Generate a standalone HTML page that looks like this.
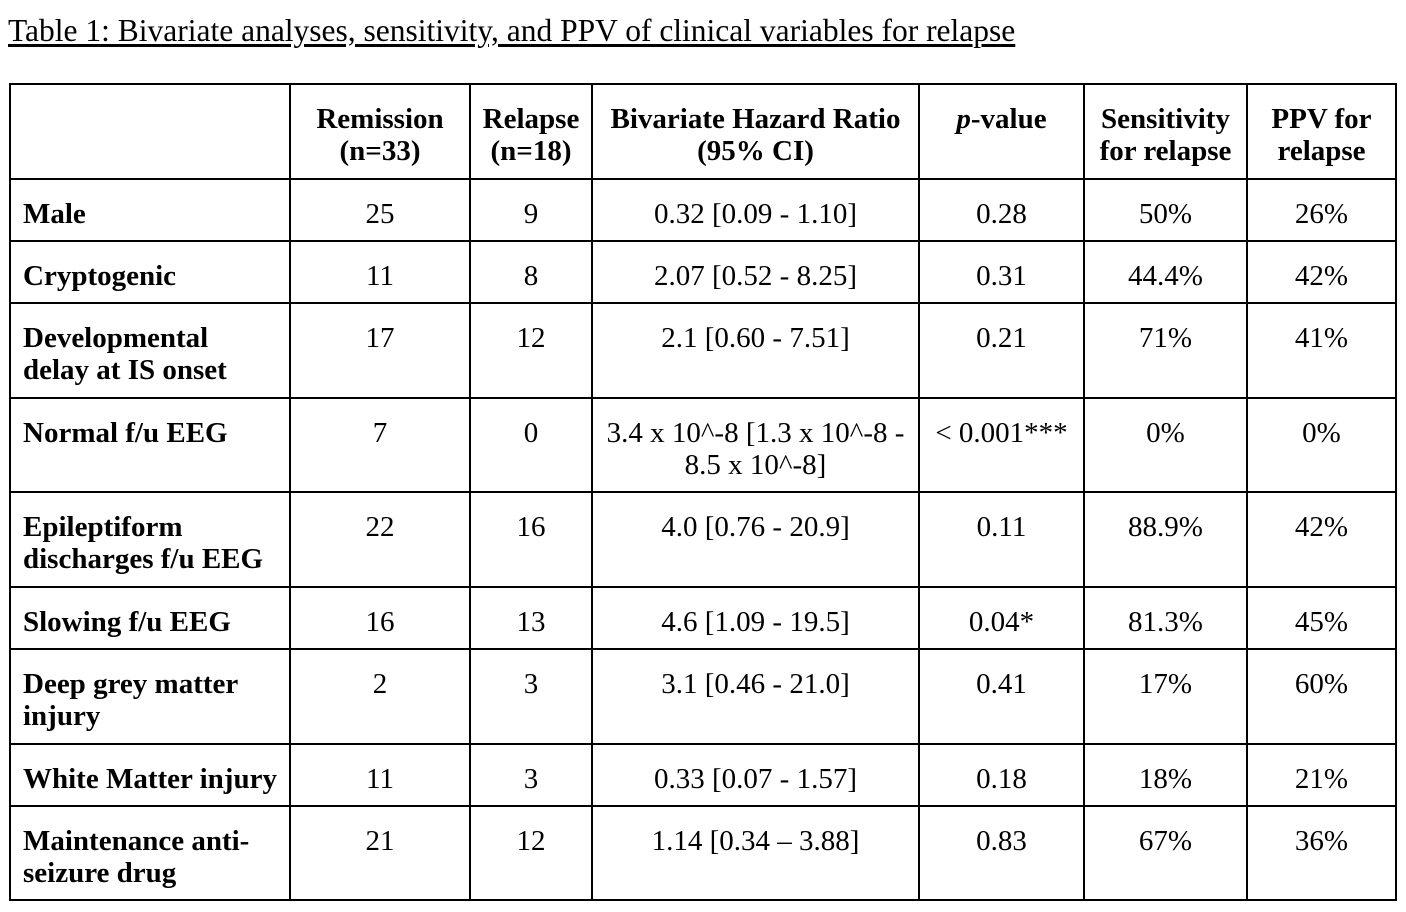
<!DOCTYPE html>
<html><head><meta charset="utf-8"><style>
body{margin:0;width:1406px;height:912px;background:#fff;font-family:"Liberation Serif",serif;color:#000;position:relative;overflow:hidden}
.title{position:absolute;left:8px;top:13px;font-size:31.5px;line-height:36px;text-decoration:underline;text-underline-offset:3px;white-space:nowrap}
table{position:absolute;left:9px;top:83px;border-collapse:collapse;table-layout:fixed;font-size:29px}
td{border:2px solid #000;vertical-align:top;text-align:center;padding:18px 2px 0 2px;line-height:32px;box-sizing:border-box;white-space:nowrap}
td.h{font-weight:bold}
td.l{text-align:left;font-weight:bold;padding-left:12px}
</style></head><body>
<div class="title">Table 1: Bivariate analyses, sensitivity, and PPV of clinical variables for relapse</div>
<table>
<colgroup><col style="width:280px"><col style="width:180px"><col style="width:122px"><col style="width:327px"><col style="width:165px"><col style="width:163px"><col style="width:149px"></colgroup>
<tr style="height:95px"><td></td><td class="h">Remission<br>(n=33)</td><td class="h">Relapse<br>(n=18)</td><td class="h">Bivariate Hazard Ratio<br>(95% CI)</td><td class="h"><i>p</i>-value</td><td class="h">Sensitivity<br>for relapse</td><td class="h">PPV for<br>relapse</td></tr>
<tr style="height:62px"><td class="l">Male</td><td>25</td><td>9</td><td>0.32 [0.09 - 1.10]</td><td>0.28</td><td>50%</td><td>26%</td></tr>
<tr style="height:62px"><td class="l">Cryptogenic</td><td>11</td><td>8</td><td>2.07 [0.52 - 8.25]</td><td>0.31</td><td>44.4%</td><td>42%</td></tr>
<tr style="height:95px"><td class="l">Developmental<br>delay at IS onset</td><td>17</td><td>12</td><td>2.1 [0.60 - 7.51]</td><td>0.21</td><td>71%</td><td>41%</td></tr>
<tr style="height:94px"><td class="l">Normal f/u EEG</td><td>7</td><td>0</td><td>3.4 x 10^-8 [1.3 x 10^-8 -<br>8.5 x 10^-8]</td><td>&lt; 0.001***</td><td>0%</td><td>0%</td></tr>
<tr style="height:95px"><td class="l">Epileptiform<br>discharges f/u EEG</td><td>22</td><td>16</td><td>4.0 [0.76 - 20.9]</td><td>0.11</td><td>88.9%</td><td>42%</td></tr>
<tr style="height:62px"><td class="l">Slowing f/u EEG</td><td>16</td><td>13</td><td>4.6 [1.09 - 19.5]</td><td>0.04*</td><td>81.3%</td><td>45%</td></tr>
<tr style="height:95px"><td class="l">Deep grey matter<br>injury</td><td>2</td><td>3</td><td>3.1 [0.46 - 21.0]</td><td>0.41</td><td>17%</td><td>60%</td></tr>
<tr style="height:62px"><td class="l">White Matter injury</td><td>11</td><td>3</td><td>0.33 [0.07 - 1.57]</td><td>0.18</td><td>18%</td><td>21%</td></tr>
<tr style="height:94px"><td class="l">Maintenance anti-<br>seizure drug</td><td>21</td><td>12</td><td>1.14 [0.34 – 3.88]</td><td>0.83</td><td>67%</td><td>36%</td></tr>
</table>
</body></html>
